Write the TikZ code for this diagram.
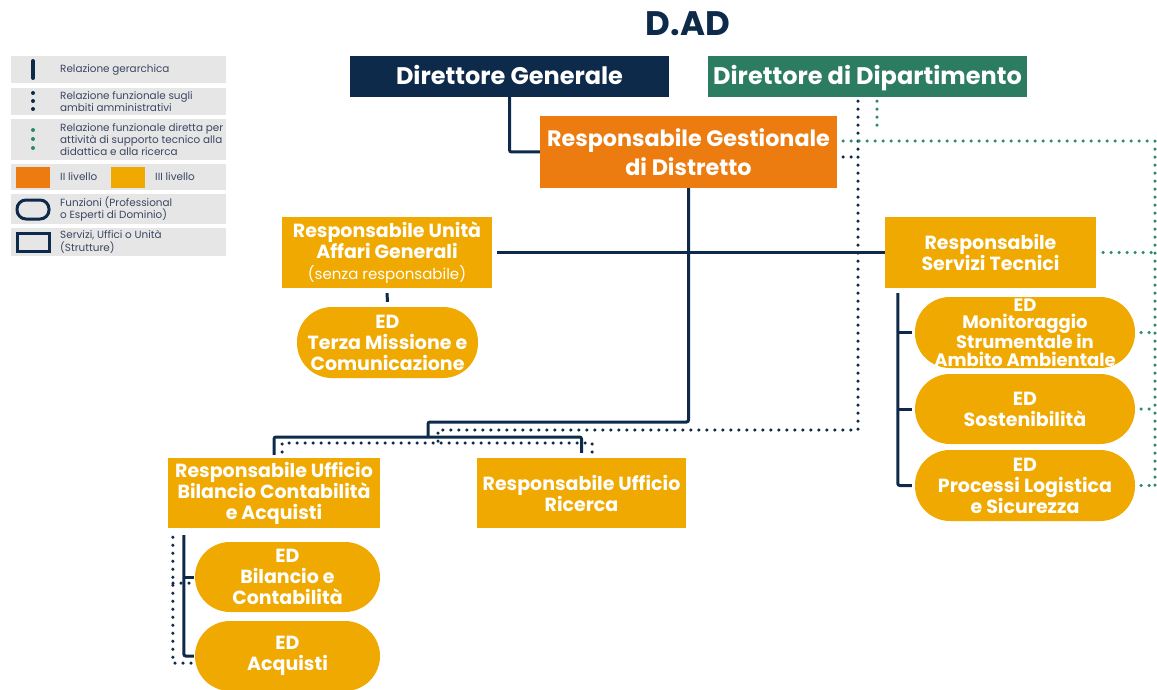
\documentclass[tikz,border=0pt]{standalone}
\usepackage{fontspec}
\setmainfont{Poppins}
\usepackage{tikz}
\usetikzlibrary{positioning}

\definecolor{navy}{HTML}{0D2A4B}
\definecolor{deptgreen}{HTML}{2C7C62}
\definecolor{techdot}{HTML}{2A8A6E}
\definecolor{lvtwo}{HTML}{EC7C10}
\definecolor{lvthree}{HTML}{F0A900}
\definecolor{legendgray}{HTML}{E6E6E7}
\definecolor{legendtext}{HTML}{3A4660}

\tikzset{
  unit/.style={rectangle, inner sep=0pt, align=center, text=white},
  topbox/.style={unit, minimum width=319pt, minimum height=41pt, text height=17pt, text depth=0pt, font=\fontsize{24}{26}\selectfont\bfseries},
  office/.style={unit, fill=lvthree, minimum height=71pt, font=\fontsize{19}{21}\selectfont\bfseries},
  expert/.style={office, rounded corners=35pt},
  hier/.style={navy, line width=3pt, rounded corners=2pt},
  admin/.style={navy, line width=3.5pt, line cap=round, dash pattern=on 0pt off 8pt},
  tech/.style={techdot, line width=3.5pt, line cap=round, dash pattern=on 0pt off 8pt},
  legendlabel/.style={anchor=west, align=left, inner sep=0pt, text=legendtext, font=\fontsize{10.4}{10}\selectfont},
}

\begin{document}
\begin{tikzpicture}[x=1pt, y=-1pt]
  \useasboundingbox (0,0) rectangle (1157,690);
  \clip (0,0) rectangle (1157,690);

  % legend
  \foreach \ya/\yb in {56/83,88/115,119/160,164/190,194/224,228/256} {
    \fill[legendgray] (11,\ya) rectangle (226,\yb);
  }
  \draw[navy, line width=4pt, line cap=round] (33,61) -- (33,78);
  \foreach \y in {93,101,109} \fill[navy] (33,\y) circle (2pt);
  \foreach \y in {130,139,148} \fill[techdot] (33,\y) circle (2pt);
  \fill[lvtwo] (16,167) rectangle (50,188);
  \fill[lvthree] (111,167) rectangle (145,188);
  \draw[navy, line width=3pt, rounded corners=9pt] (17,200) rectangle (49,219);
  \draw[navy, line width=3pt] (17,233) rectangle (49,251);
  \node[legendlabel] (lgone) at (60,69.5) {Relazione gerarchica};
  \node[legendlabel] (lgtwo) at (60,101.5) {Relazione funzionale sugli\\ambiti amministrativi};
  \node[legendlabel] (lgthree) at (60,139.5) {Relazione funzionale diretta per\\attività di supporto tecnico alla\\didattica e alla ricerca};
  \node[legendlabel] (lglvtwo) at (60,177) {II livello};
  \node[legendlabel] (lglvthree) at (155,177) {III livello};
  \node[legendlabel] (lgfunc) at (60,209) {Funzioni (Professional\\o Esperti di Dominio)};
  \node[legendlabel] (lgunit) at (60,242) {Servizi, Uffici o Unità\\(Strutture)};

  % boxes
  \node[text=navy, font=\fontsize{34}{34}\selectfont\bfseries] (title) at (688,24) {D.AD};
  \node[topbox, fill=navy] (dg) at (509.5,76.5) {Direttore Generale};
  \node[topbox, fill=deptgreen] (dd) at (867.5,76.5) {Direttore di Dipartimento};
  \node[unit, fill=lvtwo, minimum width=297pt, minimum height=72pt,
        font=\fontsize{22.3}{29}\selectfont\bfseries] (rgd) at (688.5,152) {Responsabile Gestionale\\di Distretto};
  \node[office, minimum width=210pt] (ag) at (387,252.5) {Responsabile Unità\\Affari Generali\\{\fontsize{15}{15}\selectfont\mdseries(senza responsabile)}};
  \node[office, minimum width=211pt] (rst) at (990.5,252.5) {Responsabile\\Servizi Tecnici};
  \node[expert, minimum width=181pt] (tm) at (387.5,342.5) {ED\\Terza Missione e\\Comunicazione};
  \node[expert, minimum width=220pt, font=\fontsize{18}{17.5}\selectfont\bfseries] (edone) at (1025,332.5) {ED\\Monitoraggio\\Strumentale in\\Ambito Ambientale};
  \node[expert, minimum width=220pt, minimum height=70pt] (edtwo) at (1025,409) {ED\\Sostenibilità};
  \node[expert, minimum width=220pt] (edthree) at (1025,485.5) {ED\\Processi Logistica\\e Sicurezza};
  \node[office, minimum width=212pt, minimum height=70pt] (bil) at (274,493) {Responsabile Ufficio\\Bilancio Contabilità\\e Acquisti};
  \node[office, minimum width=209pt, minimum height=70pt] (ric) at (581.5,493) {Responsabile Ufficio\\Ricerca};
  \node[expert, minimum width=185pt, minimum height=70pt] (edbil) at (287.5,577) {ED\\Bilancio e\\Contabilità};
  \node[expert, minimum width=185pt, minimum height=70pt] (acq) at (287.5,656) {ED\\Acquisti};

  % hierarchy
  \coordinate (split) at (428,422);
  \coordinate (fork) at (428,437);
  \draw[hier] (dg.south) |- (rgd.west);
  \draw[hier] (rgd.south) |- (split) -- (fork);
  \draw[hier, shorten <=3pt, shorten >=5pt] (bil.north) |- (fork) -| (ric.north);
  \draw[hier, shorten <=5pt] (ag.east) -- (rst.west);
  \draw[hier, shorten <=5pt, shorten >=5pt] (ag.south) -- (tm.north);
  \coordinate (rtop) at ([xshift=13pt,yshift=-5pt]rst.south west);
  \draw[hier] (rtop) |- ([xshift=-3pt]edthree.west);
  \foreach \e in {edone,edtwo} \draw[hier] (rtop |- \e.west) -- ([xshift=-3pt]\e.west);
  \coordinate (btop) at ([xshift=16pt,yshift=-7pt]bil.south west);
  \draw[hier] (btop) |- ([xshift=-1pt]acq.west);
  \draw[hier] (btop |- edbil.west) -- ([xshift=-1pt]edbil.west);

  % administrative relations
  \coordinate (admtop) at ([xshift=-9.5pt,yshift=-4pt]dd.south);
  \draw[admin] (admtop) |- (438,430) -- (438,443);
  \draw[admin] ([xshift=6pt,yshift=-5pt]rgd.east) -- (admtop |- 0,157);
  \draw[admin] (282,452) |- (592,443) -- (592,452);
  \draw[admin] ([xshift=5pt,yshift=-9pt]bil.south west) |- ([xshift=-2pt,yshift=-7pt]acq.west);
  \draw[admin] (173,583) -- ([xshift=-4pt,yshift=-6pt]edbil.west);

  % technical support relations
  \coordinate (rail) at (1155,141);
  \draw[tech] ([xshift=9.5pt,yshift=-4pt]dd.south) -- ++(0,24);
  \draw[tech] ([xshift=6pt,yshift=11pt]rgd.east) -- (rail) -- (rail |- 0,490);
  \draw[tech, shorten <=7pt] (rst.east) -- (rst.east -| rail);
  \foreach \e in {edone,edtwo,edthree} \draw[tech, shorten <=6pt] (\e.east) -- (\e.east -| rail);
\end{tikzpicture}
\end{document}
